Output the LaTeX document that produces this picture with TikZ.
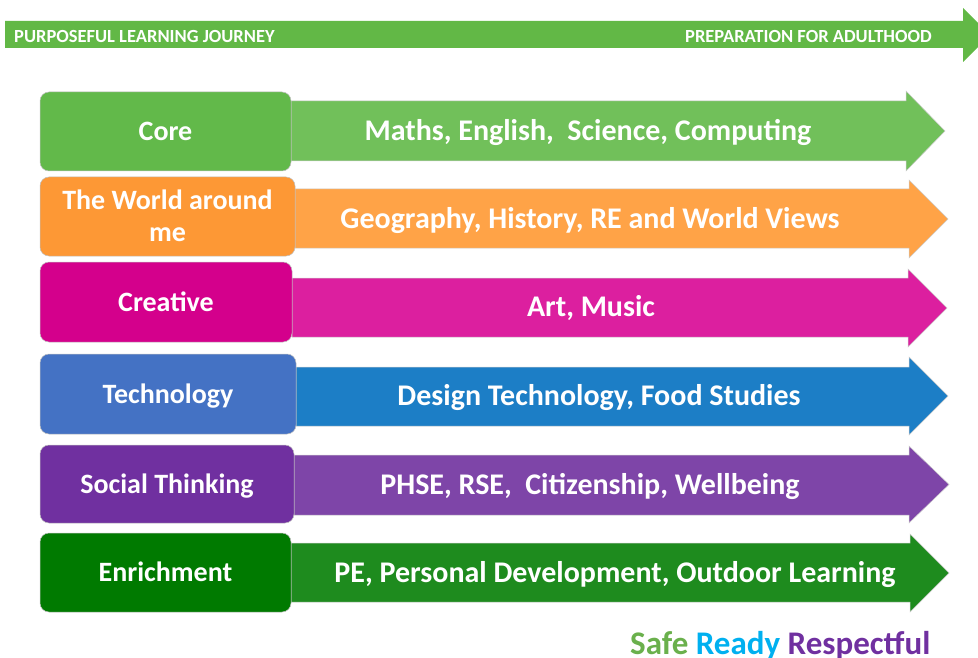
\documentclass[tikz,border=0pt]{standalone}
\usepackage{fontspec}
\setmainfont{Carlito}
\definecolor{topgreen}{RGB}{98,184,70}
\definecolor{coreBox}{RGB}{98,185,74}
\definecolor{coreArr}{RGB}{113,192,90}
\definecolor{worldBox}{RGB}{253,152,53}
\definecolor{worldArr}{RGB}{255,163,71}
\definecolor{creaBox}{RGB}{212,0,140}
\definecolor{creaArr}{RGB}{220,31,159}
\definecolor{techBox}{RGB}{68,114,196}
\definecolor{techArr}{RGB}{28,126,198}
\definecolor{socBox}{RGB}{112,48,160}
\definecolor{socArr}{RGB}{126,69,168}
\definecolor{enrBox}{RGB}{0,122,0}
\definecolor{enrArr}{RGB}{30,139,30}
\definecolor{safeC}{RGB}{106,176,76}
\definecolor{readyC}{RGB}{0,176,240}
\definecolor{respC}{RGB}{112,48,160}
\tikzset{
  labelbox/.style={rectangle, rounded corners=9pt, draw=white!75!black, line width=0.5pt,
    text=white, font=\bfseries\fontsize{28}{32}\selectfont, align=center, inner sep=0pt,
    text height=18pt, text depth=0pt},
  arrtext/.style={text=white, font=\bfseries\fontsize{30}{36}\selectfont, inner sep=0pt, anchor=base},
  toptext/.style={text=white, font=\bfseries\fontsize{18.5}{22}\selectfont, inner sep=0pt},
  arrshape/.style={draw=white!80!black, line width=0.5pt}
}
\newcommand{\rowarrow}[8]{% color, left, bodytop, bodybottom, headx, headtop, headbottom, tipx
  \path[arrshape, fill=#1] (#2,#3) -- (#5,#3) -- (#5,#6) -- (#8,{(#6+#7)/2}) -- (#5,#7) -- (#5,#4) -- (#2,#4) -- cycle;}
\begin{document}
\begin{tikzpicture}[x=1pt,y=-1pt]
\useasboundingbox (0,0) rectangle (978,658);
\clip (0,0) rectangle (978,658);
% top arrow
\fill[topgreen] (5,21) -- (963,21) -- (963,8) -- (990,35) -- (963,62) -- (963,48) -- (5,48) -- cycle;
\node[toptext, anchor=base west] (journey) at (14,42.5) {PURPOSEFUL LEARNING JOURNEY};
\node[toptext, anchor=base east] (adult) at (932,42.5) {PREPARATION FOR ADULTHOOD};
% arrows
\rowarrow{coreArr}{291}{101}{161}{906}{91}{171}{945}
\rowarrow{worldArr}{295}{189}{248}{909}{180}{258}{948}
\rowarrow{creaArr}{292}{278}{337}{908}{269}{347}{947}
\rowarrow{techArr}{296}{367}{426}{909}{357}{435}{948}
\rowarrow{socArr}{294}{455}{515}{909}{446}{523}{949}
\rowarrow{enrArr}{291}{543}{602}{910}{534}{612}{949}
% boxes
\node[labelbox, fill=coreBox, minimum width=251pt, minimum height=79pt] (core) at (165.5,131.5) {Core};
\node[labelbox, fill=worldBox, minimum width=255pt, minimum height=79pt, text height=50pt] (world) at (167.5,216.5) {The World around\\me};
\node[labelbox, fill=creaBox, minimum width=252pt, minimum height=80pt] (creative) at (166,302) {Creative};
\node[labelbox, fill=techBox, minimum width=256pt, minimum height=80pt] (tech) at (168,394) {Technology};
\node[labelbox, fill=socBox, minimum width=254pt, minimum height=78pt] (social) at (167,484) {Social Thinking};
\node[labelbox, fill=enrBox, minimum width=251pt, minimum height=79pt] (enrich) at (165.5,572.5) {Enrichment};
% arrow texts
\node[arrtext] (coreT) at (588,140.5) {Maths, English,\ \ Science, Computing};
\node[arrtext] (worldT) at (590,228.5) {Geography, History, RE and World Views};
\node[arrtext] (creaT) at (591,316.5) {Art, Music};
\node[arrtext] (techT) at (599,405.5) {Design Technology, Food Studies};
\node[arrtext] (socT) at (590,494) {PHSE, RSE,\ \ Citizenship, Wellbeing};
\node[arrtext] (enrT) at (615,582.5) {PE, Personal Development, Outdoor Learning};
% motto
\node[anchor=base west, inner sep=0pt, font=\bfseries\fontsize{33}{40}\selectfont] (motto) at (630,654)
  {\textcolor{safeC}{Safe} \textcolor{readyC}{Ready} \textcolor{respC}{Respectful}};
\end{tikzpicture}
\end{document}
